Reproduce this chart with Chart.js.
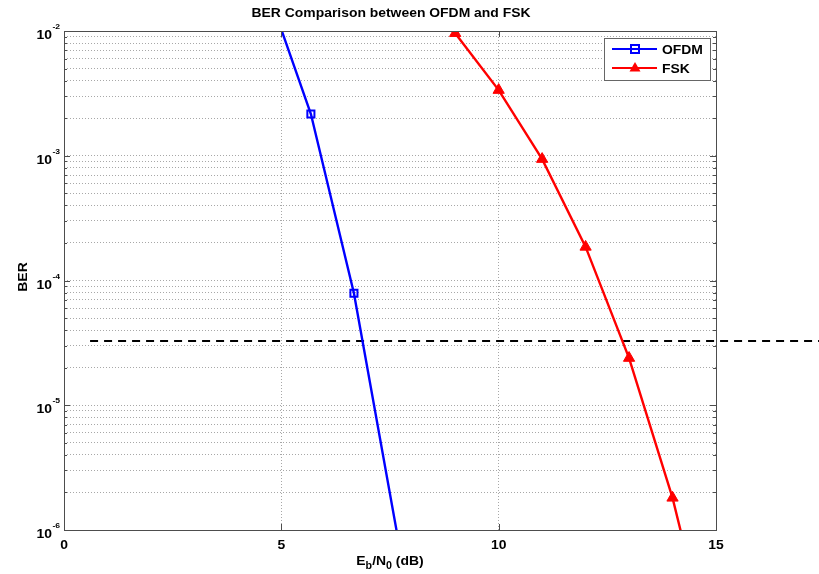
<!DOCTYPE html>
<html>
<head>
<meta charset="utf-8">
<script src="https://cdn.jsdelivr.net/npm/chart.js@4/dist/chart.umd.min.js"></script>
<style>
  html, body { margin: 0; padding: 0; background: #fff; }
  #wrap { width: 819px; height: 574px; }
</style>
</head>
<body>
<div id="wrap"><canvas id="ber-chart" width="819" height="574"></canvas></div>
<script>
// data
const ofdmSnr = [4.68, 5.68, 6.67, 8.68];
const ofdmBer = [2.14e-2, 2.16e-3, 7.9e-5, 1.0e-8];
const fskSnr = [9, 10, 11, 12, 13, 14, 15];
const fskBer = [9.6e-3, 3.36e-3, 9.4e-4, 1.86e-4, 2.39e-5, 1.81e-6, 7.0e-8];
const refSnr = [0.6, 17.4];
const refBer = [3.27e-5, 3.27e-5];
const xTicks = [0, 5, 10, 15];
const yDecades = [-6, -5, -4, -3, -2];

const FONT = '"Liberation Sans", Arial, sans-serif';
const HSCALE = 1.07; // the MATLAB export font is a bit wider than Arial

function toPoints(xs, ys) {
    return xs.map((x, i) => ({ x: x, y: ys[i] }));
}

// width of a string once stretched
function textW(ctx, s) {
    return ctx.measureText(s).width * HSCALE;
}

// fillText with a horizontal stretch, x is the left edge
function drawStretched(ctx, s, x, y) {
    ctx.save();
    ctx.translate(x, y);
    ctx.scale(HSCALE, 1);
    ctx.textAlign = 'left';
    ctx.fillText(s, 0, 0);
    ctx.restore();
}

// Draws the MATLAB-ish frame, ticks, labels, titles and legend
const matlabAxes = {
    id: 'matlabAxes',
    afterDraw(chart) {
        const { ctx, chartArea: a, scales } = chart;
        const xs = scales.x, ys = scales.y;
        ctx.save();

        // box
        ctx.strokeStyle = '#4d4d4d';
        ctx.lineWidth = 1;
        ctx.setLineDash([]);
        ctx.strokeRect(a.left + 0.5, a.top + 0.5, a.right - a.left, a.bottom - a.top);

        // inward ticks
        ctx.beginPath();
        xTicks.forEach(v => {
            const px = Math.round(xs.getPixelForValue(v)) + 0.5;
            ctx.moveTo(px, a.bottom); ctx.lineTo(px, a.bottom - 6);
            ctx.moveTo(px, a.top); ctx.lineTo(px, a.top + 6);
        });
        yDecades.forEach(e => {
            for (let k = 1; k <= 9; k++) {
                const v = k * Math.pow(10, e);
                if (v > ys.max * 1.0001) continue;
                const py = Math.round(ys.getPixelForValue(v)) + 0.5;
                const len = k === 1 ? 6 : 3;
                ctx.moveTo(a.left, py); ctx.lineTo(a.left + len, py);
                ctx.moveTo(a.right, py); ctx.lineTo(a.right - len, py);
            }
        });
        ctx.stroke();

        ctx.fillStyle = '#000';
        ctx.textBaseline = 'alphabetic';
        // x tick labels
        ctx.font = 'bold 13px ' + FONT;
        xTicks.forEach(v => {
            const s = String(v);
            drawStretched(ctx, s, xs.getPixelForValue(v) - textW(ctx, s) / 2, a.bottom + 19);
        });

        // y tick labels: 10^e
        yDecades.forEach(e => {
            const py = ys.getPixelForValue(Math.pow(10, e));
            ctx.font = 'bold 8px ' + FONT;
            const sup = String(e);
            const supX = a.left - 4 - textW(ctx, sup);
            drawStretched(ctx, sup, supX, py - 2);
            ctx.font = 'bold 13px ' + FONT;
            drawStretched(ctx, '10', supX - 0.5 - textW(ctx, '10'), py + 8);
        });

        // title
        ctx.font = 'bold 13px ' + FONT;
        const title = 'BER Comparison between OFDM and FSK';
        drawStretched(ctx, title, 391 - textW(ctx, title) / 2, 17);

        // x axis title with subscripts
        const parts = [
            { t: 'E', sub: false }, { t: 'b', sub: true },
            { t: '/N', sub: false }, { t: '0', sub: true },
            { t: ' (dB)', sub: false }
        ];
        const fontFor = p => (p.sub ? 'bold 10px ' : 'bold 13px ') + FONT;
        let total = 0;
        parts.forEach(p => { ctx.font = fontFor(p); total += textW(ctx, p.t); });
        let cx = 390 - total / 2;
        const base = 565;
        parts.forEach(p => {
            ctx.font = fontFor(p);
            drawStretched(ctx, p.t, cx, p.sub ? base + 4 : base);
            cx += textW(ctx, p.t);
        });

        // y axis title
        ctx.save();
        ctx.translate(27, 277);
        ctx.rotate(-Math.PI / 2);
        ctx.font = 'bold 13px ' + FONT;
        drawStretched(ctx, 'BER', -textW(ctx, 'BER') / 2, 0);
        ctx.restore();

        // legend
        const lx = 604, ly = 38, lw = 106, lh = 42;
        ctx.fillStyle = '#fff';
        ctx.fillRect(lx, ly, lw, lh);
        ctx.strokeStyle = '#666';
        ctx.lineWidth = 1;
        ctx.strokeRect(lx + 0.5, ly + 0.5, lw, lh);
        const items = chart.data.datasets.filter(d => d.label);
        items.forEach((d, i) => {
            const y = ly + 11 + i * 19;
            ctx.strokeStyle = d.borderColor;
            ctx.lineWidth = 2.2;
            ctx.beginPath();
            ctx.moveTo(lx + 8, y); ctx.lineTo(lx + 53, y);
            ctx.stroke();
            const mx = lx + 31;
            ctx.fillStyle = d.borderColor;
            if (d.pointStyle === 'rect') {
                ctx.lineWidth = 2;
                ctx.strokeRect(mx - 4, y - 4, 8, 8);
            } else {
                ctx.beginPath();
                ctx.moveTo(mx, y - 6); ctx.lineTo(mx + 5.5, y + 3.5); ctx.lineTo(mx - 5.5, y + 3.5);
                ctx.closePath(); ctx.fill();
            }
            ctx.fillStyle = '#000';
            ctx.font = 'bold 13px ' + FONT;
            drawStretched(ctx, d.label, lx + 58, y + 5);
        });

        ctx.restore();
    }
};

const ctx = document.getElementById('ber-chart').getContext('2d');
const berChart = new Chart(ctx, {
    type: 'line',
    data: {
        datasets: [{
            label: 'OFDM',
            data: toPoints(ofdmSnr, ofdmBer),
            borderColor: '#0000ff',
            backgroundColor: 'rgba(0,0,255,0.15)',
            borderWidth: 2.4,
            pointStyle: 'rect',
            pointRadius: 5,
            pointBorderWidth: 2,
            pointBackgroundColor: 'rgba(255,255,255,0)',
            tension: 0
        }, {
            label: 'FSK',
            data: toPoints(fskSnr, fskBer),
            borderColor: '#ff0000',
            backgroundColor: '#ff0000',
            borderWidth: 2.4,
            pointStyle: 'triangle',
            pointRadius: 6.5,
            pointBorderWidth: 1,
            pointBackgroundColor: '#ff0000',
            tension: 0
        }, {
            label: '',
            data: toPoints(refSnr, refBer),
            borderColor: '#000',
            borderWidth: 2,
            borderDash: [8, 6],
            pointRadius: 0,
            clip: false
        }]
    },
    options: {
        responsive: false,
        animation: false,
        layout: { padding: { left: 64, right: 103, top: 31, bottom: 44 } },
        plugins: {
            legend: { display: false },
            tooltip: { enabled: false }
        },
        scales: {
            x: {
                type: 'linear',
                min: 0, max: 15,
                afterBuildTicks: s => { s.ticks = xTicks.map(v => ({ value: v })); },
                ticks: { display: false },
                grid: { color: '#a8a8a8', lineWidth: 1, drawTicks: false },
                border: { display: false, dash: [1, 2] }
            },
            y: {
                type: 'logarithmic',
                min: 1e-6, max: 1e-2,
                afterBuildTicks: s => {
                    const t = [];
                    yDecades.forEach(e => {
                        for (let k = 1; k <= 9; k++) {
                            const v = k * Math.pow(10, e);
                            if (v <= 1e-2 * 1.0001) t.push({ value: v });
                        }
                    });
                    s.ticks = t;
                },
                ticks: { display: false },
                grid: { color: '#a8a8a8', lineWidth: 1, drawTicks: false },
                border: { display: false, dash: [1, 2] }
            }
        }
    },
    plugins: [matlabAxes]
});
</script>
</body>
</html>
